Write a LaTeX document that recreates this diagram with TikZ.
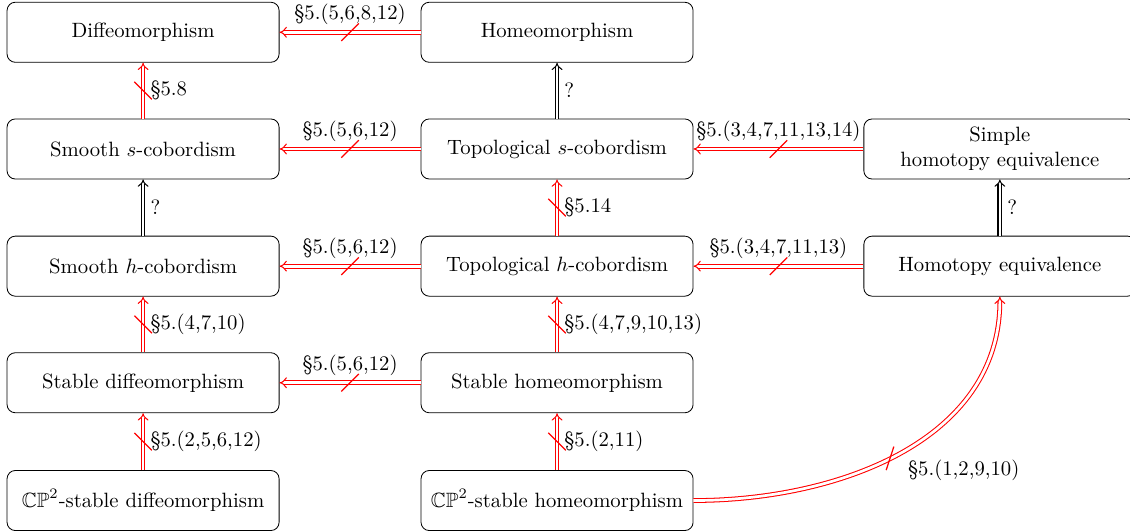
\documentclass[tikz,border=0pt]{standalone}
\usepackage{amssymb}
\usetikzlibrary{arrows.meta}

\newcommand{\slashmark}{\rule{0.42cm}{0.6pt}}

\tikzset{
  notion/.style={draw, rounded corners, minimum width=4.62cm, minimum height=1.02cm, align=center},
  imp/.style={line width=0.5pt, double, double distance=1.3pt, -{Implies}},
  redimp/.style={imp, red, nodes={text=black}},
  strike/.style={sloped, rotate=45, inner sep=0pt, text=red},
}

\begin{document}
\begin{tikzpicture}
      \useasboundingbox (0,0) rectangle (19.19,-9.03);

      % Notions of equivalence
      \node[notion] (diffeo) at (2.43,-0.548) {Diffeomorphism};
      \node[notion] (homeo) at (9.46,-0.548) {Homeomorphism};

      \node[notion] (smoothS) at (2.43,-2.53) {Smooth $s$-cobordism};
      \node[notion] (topS) at (9.46,-2.53) {Topological $s$-cobordism};
      \node[notion] (simpleHE) at (16.98,-2.53) {Simple\\homotopy equivalence};

      \node[notion] (smoothH) at (2.43,-4.52) {Smooth $h$-cobordism};
      \node[notion] (topH) at (9.46,-4.52) {Topological $h$-cobordism};
      \node[notion] (homotopyEq) at (16.98,-4.52) {Homotopy equivalence};

      \node[notion] (stDiffeo) at (2.43,-6.50) {Stable diffeomorphism};
      \node[notion] (stHomeo) at (9.46,-6.50) {Stable homeomorphism};

      \node[notion] (cpDiffeo) at (2.43,-8.50) {$\mathbb{CP}^2$-stable diffeomorphism};
      \node[notion] (cpHomeo) at (9.46,-8.50) {$\mathbb{CP}^2$-stable homeomorphism};

      % Horizontal implications
      \draw[redimp] (homeo) -- node[above] {\S5.(5,6,8,12)} node[midway, strike] {\slashmark} (diffeo);
      \draw[redimp] (topS) -- node[above] {\S5.(5,6,12)} node[midway, strike] {\slashmark} (smoothS);
      \draw[redimp] (simpleHE) -- node[above] {\S5.(3,4,7,11,13,14)} node[midway, strike] {\slashmark} (topS);
      \draw[redimp] (topH) -- node[above] {\S5.(5,6,12)} node[midway, strike] {\slashmark} (smoothH);
      \draw[redimp] (homotopyEq) -- node[above] {\S5.(3,4,7,11,13)} node[midway, strike] {\slashmark} (topH);
      \draw[redimp] (stHomeo) -- node[above] {\S5.(5,6,12)} node[midway, strike] {\slashmark} (stDiffeo);

      % Vertical implications
      \draw[redimp] (smoothS) -- node[right] {\S5.8} node[midway, strike] {\slashmark} (diffeo);
      \draw[imp] (topS) -- node[right] {?} (homeo);
      \draw[imp] (smoothH) -- node[right] {?} (smoothS);
      \draw[redimp] (topH) -- node[right] {\S5.14} node[midway, strike] {\slashmark} (topS);
      \draw[imp] (homotopyEq) -- node[right] {?} (simpleHE);
      \draw[redimp] (stDiffeo) -- node[right] {\S5.(4,7,10)} node[midway, strike] {\slashmark} (smoothH);
      \draw[redimp] (stHomeo) -- node[right] {\S5.(4,7,9,10,13)} node[midway, strike] {\slashmark} (topH);
      \draw[redimp] (cpDiffeo) -- node[right] {\S5.(2,5,6,12)} node[midway, strike] {\slashmark} (stDiffeo);
      \draw[redimp] (cpHomeo) -- node[right] {\S5.(2,11)} node[midway, strike] {\slashmark} (stHomeo);

      % Long curve
      \draw[redimp] (cpHomeo.east) to[out=0, in=-90]
        node[pos=0.47, strike] {\slashmark} node[pos=0.5, below right] {\S5.(1,2,9,10)} (homotopyEq.south);
\end{tikzpicture}
\end{document}
